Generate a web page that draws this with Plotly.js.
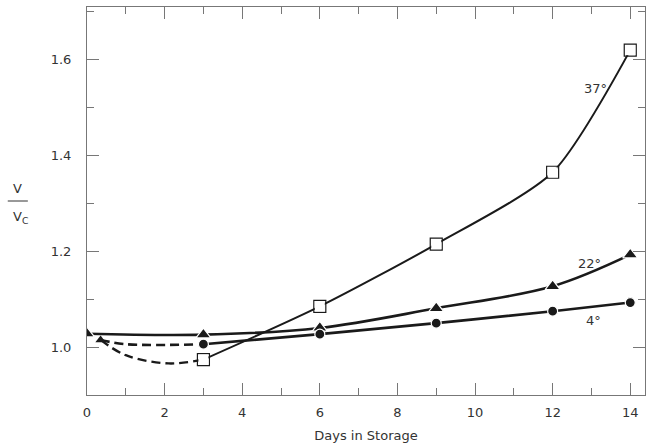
<!DOCTYPE html>
<html>
<head>
<meta charset="utf-8">
<script src="https://cdn.plot.ly/plotly-3.0.1.min.js"></script>
<style>html,body{margin:0;padding:0;background:#fff;}#chart{width:646px;height:447px;}</style>
</head>
<body>
<div id="chart"></div>
<script>
// Days in storage
const days37 = [3, 6, 9, 12, 14];
const ratio37 = [0.974, 1.085, 1.215, 1.365, 1.62];
const days37Early = [0.35, 1.0, 2.1, 3];
const ratio37Early = [1.015, 0.983, 0.966, 0.974];

const days22 = [0, 3, 6, 9, 12, 14];
const ratio22 = [1.028, 1.026, 1.04, 1.081, 1.127, 1.193];

const days4 = [3, 6, 9, 12, 14];
const ratio4 = [1.006, 1.027, 1.05, 1.075, 1.093];
const days4Early = [0.35, 1.0, 3];
const ratio4Early = [1.015, 1.006, 1.006];

const curveLabels = ["37°", "22°", "4°"];
const labelX = [13.1, 12.95, 13.05];
const labelY = [1.54, 1.175, 1.055];

const xTickVals = [0, 2, 4, 6, 8, 10, 12, 14];
const yTickVals = [1.0, 1.2, 1.4, 1.6];
const yTickText = ["1.0", "1.2", "1.4", "1.6"];

const ink = "#1a1a1a";
const txt = "#333";
const font = {family: "DejaVu Sans", size: 13, color: txt};

const traces = [
  {x: days37Early, y: ratio37Early, mode: "lines", line: {color: ink, width: 2.4, dash: "9px,5px", shape: "spline"}, hoverinfo: "skip"},
  {x: days4Early, y: ratio4Early, mode: "lines", line: {color: ink, width: 2.6, dash: "9px,5px", shape: "spline"}, hoverinfo: "skip"},
  {x: [days4Early[0]], y: [ratio4Early[0]], mode: "markers", marker: {symbol: "triangle-up", size: 9, color: ink}, hoverinfo: "skip"},
  {x: days22, y: ratio22, mode: "lines+markers", line: {color: ink, width: 2.6, shape: "spline"},
   marker: {symbol: "triangle-up", size: 13, color: ink, line: {color: "#fff", width: 1.2}}},
  {x: days4, y: ratio4, mode: "lines+markers", line: {color: ink, width: 2.6, shape: "spline"},
   marker: {symbol: "circle", size: 10, color: ink, line: {color: "#fff", width: 1.2}}},
  {x: days37, y: ratio37, mode: "lines+markers", line: {color: ink, width: 2, shape: "spline", smoothing: 0.7},
   marker: {symbol: "square-open", size: 12, color: ink, line: {color: ink, width: 1.2}}},
  {x: days37, y: ratio37, mode: "markers", marker: {symbol: "square", size: 10, color: "#fff"}, hoverinfo: "skip"}
];

const annotations = curveLabels.map((t, i) => ({
  x: labelX[i], y: labelY[i], xref: "x", yref: "y", text: t, showarrow: false,
  font: {family: "DejaVu Sans", size: 13, color: txt}
}));
annotations.push({xref: "paper", yref: "paper", x: -0.124, y: 0.533, xanchor: "center", yanchor: "middle",
  text: "V", showarrow: false, font: {family: "DejaVu Sans", size: 13, color: txt}});
annotations.push({xref: "paper", yref: "paper", x: -0.119, y: 0.457, xanchor: "center", yanchor: "middle",
  text: "V<sub>C</sub>", showarrow: false, font: {family: "DejaVu Sans", size: 13, color: txt}});

const layout = {
  width: 646, height: 447,
  margin: {l: 87, r: 1, t: 7, b: 52},
  paper_bgcolor: "#fff", plot_bgcolor: "#fff",
  showlegend: false,
  font: font,
  xaxis: {
    range: [0, 14.38], tickvals: xTickVals, ticks: "inside", ticklen: 12, tickcolor: "#777", tickwidth: 1,
    showline: true, linecolor: "#777", linewidth: 1, mirror: "allticks", showgrid: false, zeroline: false,
    ticklabelstandoff: 5,
    minor: {dtick: 1, ticks: "inside", ticklen: 7, tickcolor: "#777", showgrid: false},
    title: {text: "Days in Storage", font: {family: "DejaVu Sans", size: 13, color: txt}, standoff: 12}
  },
  yaxis: {
    range: [0.9, 1.71], tickvals: yTickVals, ticktext: yTickText, ticks: "inside", ticklen: 12, tickcolor: "#777", tickwidth: 1,
    showline: true, linecolor: "#777", linewidth: 1, mirror: "allticks", showgrid: false, zeroline: false,
    ticklabelstandoff: 12,
    minor: {dtick: 0.1, ticks: "inside", ticklen: 7, tickcolor: "#777", showgrid: false}
  },
  shapes: [{type: "line", xref: "paper", yref: "paper", x0: -0.142, x1: -0.106, y0: 0.5, y1: 0.5,
    line: {color: txt, width: 1}}],
  annotations: annotations
};

Plotly.newPlot("chart", traces, layout, {displayModeBar: false, staticPlot: true});
</script>
</body>
</html>
